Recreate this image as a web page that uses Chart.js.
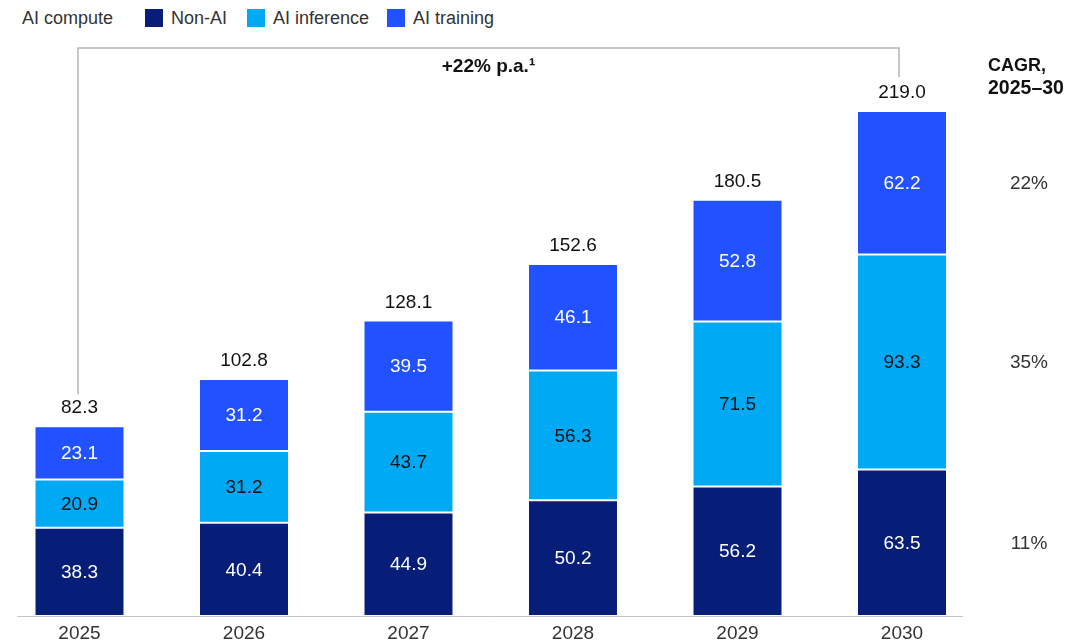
<!DOCTYPE html>
<html>
<head>
<meta charset="utf-8">
<script src="https://cdn.jsdelivr.net/npm/chart.js@4.4.1/dist/chart.umd.min.js"></script>
<style>
  body { margin: 0; background: #fff; overflow: hidden; font-family: "Liberation Sans", Arial, sans-serif; }
  #wrap { position: relative; width: 1076px; height: 643px; }
  #myChart { position: absolute; left: 0; top: 0; }
  .leg { position: absolute; top: 8px; font-size: 18px; line-height: 20px; color: #333; white-space: nowrap; }
  .sw { display: inline-block; width: 18px; height: 18px; vertical-align: -3px; margin-right: 8px; }
</style>
</head>
<body>
<div id="wrap">
  <div id="legend"></div>
  <canvas id="myChart" width="1076" height="643"></canvas>
</div>
<script>
// data
const years = ['2025', '2026', '2027', '2028', '2029', '2030'];
const nonAi = [38.3, 40.4, 44.9, 50.2, 56.2, 63.5];
const aiInference = [20.9, 31.2, 43.7, 56.3, 71.5, 93.3];
const aiTraining = [23.1, 31.2, 39.5, 46.1, 52.8, 62.2];
const totals = [82.3, 102.8, 128.1, 152.6, 180.5, 219.0];
const seriesNames = ['Non-AI', 'AI inference', 'AI training'];
const seriesColors = ['#061E78', '#00A9F4', '#2251FF'];
const labelColors = ['#ffffff', '#111111', '#ffffff'];
const cagrValues = ['11%', '35%', '22%'];
const legendTitle = 'AI compute';
const growthNote = '+22% p.a.\u00B9';
const cagrHeader = ['CAGR,', '2025\u201330'];

const FONT = '"Liberation Sans", Arial, sans-serif';

// html legend
const legend = document.getElementById('legend');
const legendX = [145, 247, 387];
let html = '<span class="leg" style="left:22px">' + legendTitle + '</span>';
seriesNames.forEach((n, i) => {
  html += '<span class="leg" style="left:' + legendX[i] + 'px"><span class="sw" style="background:' +
    seriesColors[i] + '"></span>' + n + '</span>';
});
legend.innerHTML = html;

const overlay = {
  id: 'overlay',
  afterDatasetsDraw(chart) {
    const ctx = chart.ctx;
    const area = chart.chartArea;
    const x = chart.scales.x;
    const y = chart.scales.y;
    ctx.save();

    // baseline
    ctx.strokeStyle = '#c4c4c4';
    ctx.lineWidth = 1;
    ctx.beginPath();
    ctx.moveTo(x.getPixelForValue(0) - 62, area.bottom + 0.5);
    ctx.lineTo(x.getPixelForValue(years.length - 1) + 61, area.bottom + 0.5);
    ctx.stroke();

    ctx.textAlign = 'center';
    ctx.textBaseline = 'middle';
    ctx.font = '19px ' + FONT;

    // segment values
    chart.data.datasets.forEach((ds, di) => {
      const meta = chart.getDatasetMeta(di);
      meta.data.forEach((bar, i) => {
        const p = bar.getProps(['x', 'y', 'base'], true);
        ctx.fillStyle = labelColors[di];
        ctx.fillText(ds.data[i].toFixed(1), p.x, (p.y + p.base) / 2 + 1);
      });
    });

    // totals
    ctx.fillStyle = '#111';
    totals.forEach((t, i) => {
      ctx.fillText(t.toFixed(1), x.getPixelForValue(i), y.getPixelForValue(t) - 18);
    });

    // bracket
    const lx = x.getPixelForValue(0) - 1.5;
    const rx = x.getPixelForValue(years.length - 1) - 3;
    const topY = 48;
    ctx.strokeStyle = '#b5b5b5';
    ctx.lineWidth = 1.5;
    ctx.beginPath();
    ctx.moveTo(lx, y.getPixelForValue(totals[0]) - 32);
    ctx.lineTo(lx, topY);
    ctx.lineTo(rx, topY);
    ctx.lineTo(rx, y.getPixelForValue(totals[totals.length - 1]) - 34);
    ctx.stroke();

    ctx.font = 'bold 19px ' + FONT;
    ctx.fillStyle = '#111';
    ctx.fillText(growthNote, (lx + rx) / 2, 67);

    // CAGR column
    ctx.textAlign = 'left';
    ctx.font = 'bold 18px ' + FONT;
    ctx.fillText(cagrHeader[0], 988, 66);
    ctx.font = 'bold 19.5px ' + FONT;
    ctx.fillText(cagrHeader[1], 988, 89);

    ctx.font = '19px ' + FONT;
    ctx.fillStyle = '#333';
    ctx.textAlign = 'center';
    const last = years.length - 1;
    chart.data.datasets.forEach((ds, di) => {
      const bar = chart.getDatasetMeta(di).data[last];
      const p = bar.getProps(['y', 'base'], true);
      ctx.fillText(cagrValues[di], 1029, (p.y + p.base) / 2 + 1);
    });

    ctx.restore();
  }
};

const ctx = document.getElementById('myChart').getContext('2d');
const chart = new Chart(ctx, {
  type: 'bar',
  data: {
    labels: years,
    datasets: [nonAi, aiInference, aiTraining].map((d, i) => ({
      label: seriesNames[i],
      data: d,
      backgroundColor: seriesColors[i],
      borderColor: 'rgba(255,255,255,0.85)',
      borderWidth: 1,
      borderSkipped: false,
      barPercentage: 1,
      categoryPercentage: 0.547,
      clip: false
    }))
  },
  options: {
    responsive: false,
    animation: false,
    layout: { padding: { left: 79.5, right: 174, top: 39.5, bottom: 0 } },
    plugins: { legend: { display: false }, tooltip: { enabled: false } },
    scales: {
      x: {
        stacked: true,
        offset: false,
        grid: { display: false, drawTicks: true, tickLength: 8 },
        border: { display: false },
        ticks: { color: '#333', padding: 0, font: { size: 19, family: FONT, lineHeight: 1 } }
      },
      y: {
        stacked: true,
        display: false,
        min: 0,
        max: 250
      }
    }
  },
  plugins: [overlay]
});
</script>
</body>
</html>
